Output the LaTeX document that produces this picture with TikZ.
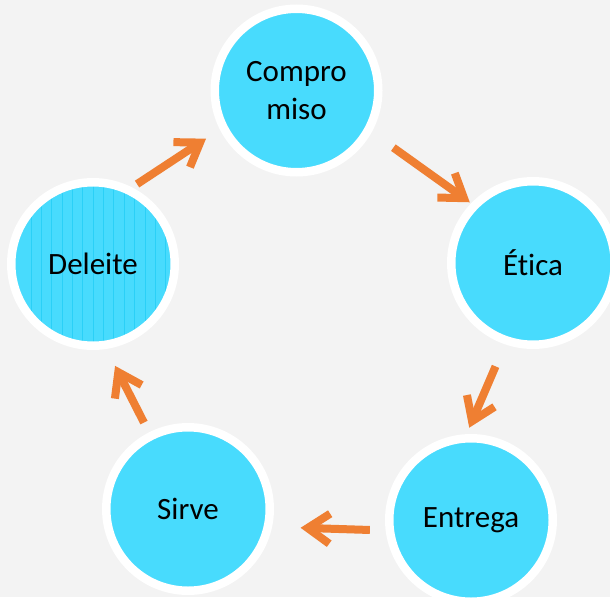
\documentclass[tikz,border=0pt]{standalone}
\usepackage{fontspec}
\setmainfont{Carlito}[Ligatures=NoCommon]
\usetikzlibrary{arrows.meta}
\definecolor{bgcol}{HTML}{F3F3F3}
\definecolor{circcol}{HTML}{48DBFD}
\definecolor{hatchcol}{HTML}{2AD0F7}
\definecolor{arrcol}{HTML}{EF7F32}

\begin{document}
\begin{tikzpicture}[x=1pt,y=-1pt,
  stage/.style={circle,fill=circcol,draw=white,line width=8.5pt,minimum size=163.5pt,
                inner sep=0pt,align=center,font=\fontsize{31}{37.5}\selectfont},
  flow/.style={draw=arrcol,line width=8pt,-{Straight Barb[length=22pt,width=30pt]}}]

  % background
  \fill[bgcol] (0,0) rectangle (610,597);
  \useasboundingbox (0,0) rectangle (610,597);

  % circle cut off in the corner
  \begin{scope}
    \clip (0,0) rectangle (610,597);
    \node[stage] (corner) at (-68,-58) {};
  \end{scope}

  % the five stages
  \node[stage] (compromiso) at (296.5,90.5) {Compro\\miso};
  \node[stage] (etica) at (533,263) {Ética};
  \node[stage] (entrega) at (471,520) {Entrega};
  \node[stage] (sirve) at (188,509) {Sirve};
  \node[stage,path picture={
      \foreach \i in {0,...,13}
        \draw[hatchcol,line width=0.7pt] ([xshift={-62pt+10.35pt*\i}]path picture bounding box.center)
          ++(0,-90) -- ++(0,180);
    }] (deleite) at (93,264) {Deleite};

  % arrows round the cycle
  \draw[flow,shorten <=6pt,shorten >=16.6pt] (deleite.63) -- (compromiso.207);
  \draw[flow,shorten <=26.6pt,shorten >=1.7pt] (compromiso.-29) -- (etica.136);
  \draw[flow,shorten <=24pt,shorten >=7pt] (etica.251) -- (entrega.93.7);
  \draw[flow,shorten <=15.8pt,shorten >=28.5pt] (entrega.187.3) -- (sirve.-12.1);
  \draw[flow,shorten <=11pt,shorten >=19pt] (sirve.117.6) -- (deleite.-81.8);

\end{tikzpicture}
\end{document}
